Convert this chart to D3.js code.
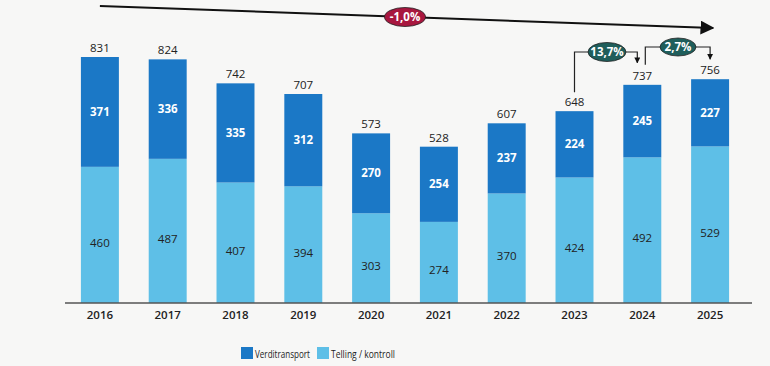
<!DOCTYPE html>
<html><head><meta charset="utf-8">
<script src="https://cdn.jsdelivr.net/npm/d3@7"></script>
<style>body{margin:0;background:#f7f7f6;}svg{display:block;font-family:"Open Sans","Noto Sans",sans-serif;}</style>
</head><body>
<script>
const years = ["2016","2017","2018","2019","2020","2021","2022","2023","2024","2025"];
const verditransport = [371,336,335,312,270,254,237,224,245,227];
const telling = [460,487,407,394,303,274,370,424,492,529];
const totals = [831,824,742,707,573,528,607,648,737,756];
const seriesNames = ["Verditransport","Telling / kontroll"];
const colors = ["#1b78c6","#5ebfe7"];
const trendLabel = "-1,0%";
const growthLabels = ["13,7%","2,7%"];

const W=770,H=366;
const svg=d3.select("body").append("svg").attr("width",W).attr("height",H);
svg.append("rect").attr("width",W).attr("height",H).attr("fill","#f7f7f6");
const defs=svg.append("defs");
defs.append("marker").attr("id","ah").attr("viewBox","0 0 10 10").attr("refX",9).attr("refY",5)
 .attr("markerWidth",7).attr("markerHeight",7).attr("orient","auto")
 .append("path").attr("d","M0,0L10,5L0,10z").attr("fill","#111");
defs.append("marker").attr("id","ah2").attr("viewBox","0 0 10 10").attr("refX",9).attr("refY",5)
 .attr("markerWidth",6).attr("markerHeight",6).attr("markerUnits","userSpaceOnUse").attr("orient","auto")
 .append("path").attr("d","M0,0L10,5L0,10z").attr("fill","#111");

const x=d3.scaleBand().domain(years).range([66,744]).paddingInner(0.44).paddingOuter(0.22);
const y=d3.scaleLinear().domain([0,831]).range([303,57]);

const g=svg.append("g");
years.forEach((yr,i)=>{
  const x0=x(yr),bw=x.bandwidth();
  const t=telling[i],v=verditransport[i];
  g.append("rect").attr("x",x0).attr("width",bw).attr("y",y(t)).attr("height",y(0)-y(t)).attr("fill",colors[1]);
  g.append("rect").attr("x",x0).attr("width",bw).attr("y",y(t+v)).attr("height",y(t)-y(t+v)).attr("fill",colors[0]);
  g.append("text").attr("x",x0+bw/2).attr("y",(y(t)+y(t+v))/2+4).attr("text-anchor","middle")
   .attr("font-size",11.5).attr("font-weight","bold").attr("fill","#fff").text(v);
  g.append("text").attr("x",x0+bw/2).attr("y",(y(0)+y(t))/2+12).attr("text-anchor","middle")
   .attr("font-size",11.5).attr("fill","#222").text(t);
  g.append("text").attr("x",x0+bw/2).attr("y",y(totals[i])-5).attr("text-anchor","middle")
   .attr("font-size",11.5).attr("fill","#222").text(totals[i]);
});

const axis=svg.append("g").attr("transform","translate(0,303)").call(d3.axisBottom(x).tickSize(0).tickPadding(8));
axis.select(".domain").attr("stroke","#555").attr("stroke-width",1.5).attr("d","M65,0H752");
axis.selectAll("text").attr("font-size",11.5).attr("font-family","Open Sans, sans-serif").attr("fill","#222").attr("font-weight","600");

// trend arrow
const cx=i=>x(years[i])+x.bandwidth()/2;
svg.append("line").attr("x1",cx(0)).attr("y1",6).attr("x2",cx(9)+3).attr("y2",28)
 .attr("stroke","#111").attr("stroke-width",2).attr("marker-end","url(#ah)");
function badge(cxp,cyp,rx,ry,fill,label){
  svg.append("ellipse").attr("cx",cxp).attr("cy",cyp).attr("rx",rx).attr("ry",ry).attr("fill",fill).attr("stroke","#222").attr("stroke-width",0.8);
  svg.append("text").attr("x",cxp).attr("y",cyp+4).attr("text-anchor","middle").attr("font-size",11.5)
   .attr("font-weight","bold").attr("fill","#fff").text(label);
}
badge(405,17,20.5,9.5,"#a8173f",trendLabel);

// growth connectors
const conn=(xa,ya,xb,yTop,yEnd)=>{
  svg.append("path").attr("d",`M${xa},${ya}V${yTop}H${xb}V${yEnd}`).attr("fill","none")
   .attr("stroke","#222").attr("stroke-width",1.2).attr("marker-end","url(#ah2)");
};
conn(cx(7),y(totals[7])-19,cx(8)-5,52,y(totals[8])-22);
badge(607,52,19,9.5,"#1f5e5b",growthLabels[0]);
conn(cx(8)+3,y(totals[8])-20,cx(9),47,y(totals[9])-20);
badge(678,47,18,9,"#1f5e5b",growthLabels[1]);

// legend
const lg=svg.append("g").attr("transform","translate(241,347)");
const legW=[55,64];
seriesNames.forEach((n,i)=>{
  const ox=i===0?0:76;
  lg.append("rect").attr("x",ox).attr("y",0).attr("width",12).attr("height",12).attr("fill",colors[i]);
  lg.append("text").attr("x",ox+14).attr("y",10.5).attr("font-size",11.5).attr("fill","#222")
   .attr("textLength",legW[i]).attr("lengthAdjust","spacingAndGlyphs").text(n);
});
</script>
</body></html>
